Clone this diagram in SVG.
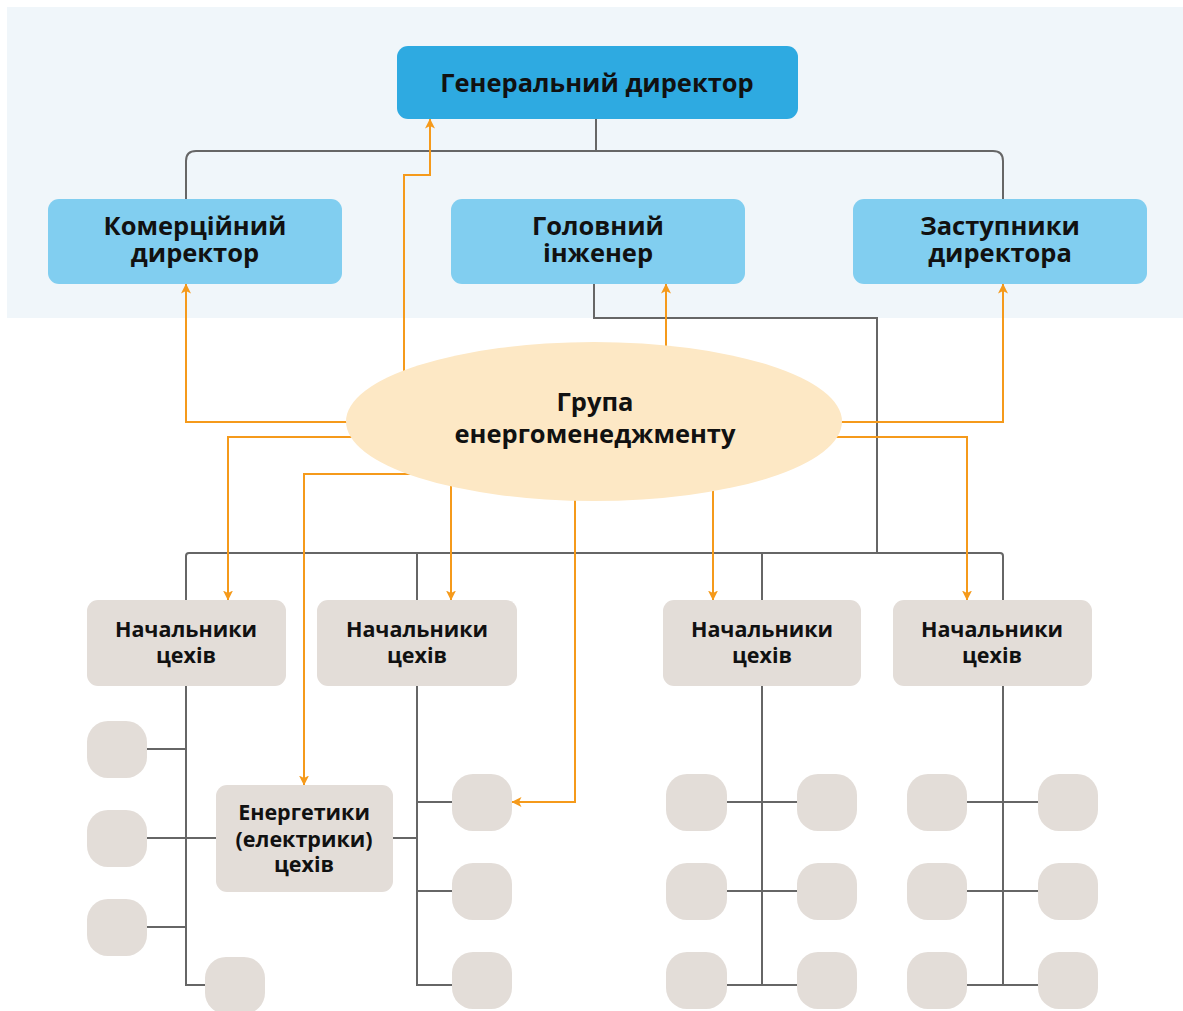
<svg xmlns="http://www.w3.org/2000/svg" width="1183" height="1011" viewBox="0 0 1183 1011">
  <style>
    .panel { fill: #f0f6fa; }
    .top { fill: #2eaae1; }
    .mid { fill: #81cef0; }
    .low { fill: #e3ddd8; }
    .group { fill: #fde8c5; }
    .grey { fill: none; stroke: #666666; stroke-width: 2; }
    .orange { fill: none; stroke: #f59a1b; stroke-width: 2; marker-end: url(#arrow); }
    .t { font-family: "Open Sans", "Noto Sans", "DejaVu Sans", sans-serif; font-weight: 700; fill: #111; text-anchor: middle; }
    .t1 { font-size: 25.5px; }
    .t2 { font-size: 21.5px; }
  </style>
  <defs>
    <marker id="arrow" viewBox="0 0 10 10" refX="9.5" refY="5" markerWidth="5" markerHeight="5" orient="auto" markerUnits="strokeWidth">
      <path d="M0,0 L10,5 L0,10 L2.5,5 z" fill="#f59a1b"/>
    </marker>
  </defs>

  <!-- management background -->
  <rect class="panel" x="7" y="7" width="1176" height="311"/>

  <g id="connectors">
    <!-- reporting lines (grey) -->
    <path class="grey" d="M596,119 V151"/>
    <path class="grey" d="M186,199 V161 Q186,151 196,151 H993 Q1003,151 1003,161 V199"/>
    <path class="grey" d="M594,284 V318 H877 V553"/>
    <path class="grey" d="M186,600 V556 Q186,553 189,553 H1000 Q1003,553 1003,556 V600"/>
    <path class="grey" d="M417,553 V600"/>
    <path class="grey" d="M762,553 V600"/>
    <!-- column 1 -->
    <path class="grey" d="M186,686 V985 H205"/>
    <path class="grey" d="M147,749 H186"/>
    <path class="grey" d="M147,838 H216"/>
    <path class="grey" d="M147,927 H186"/>
    <!-- column 2 -->
    <path class="grey" d="M417,686 V985 H452"/>
    <path class="grey" d="M393,838 H417"/>
    <path class="grey" d="M417,802 H452"/>
    <path class="grey" d="M417,891 H452"/>
    <!-- column 3 -->
    <path class="grey" d="M762,686 V985"/>
    <path class="grey" d="M727,802 H797"/>
    <path class="grey" d="M727,891 H797"/>
    <path class="grey" d="M727,985 H797"/>
    <!-- column 4 -->
    <path class="grey" d="M1003,600 V985"/>
    <path class="grey" d="M967,802 H1038"/>
    <path class="grey" d="M967,891 H1038"/>
    <path class="grey" d="M967,985 H1038"/>

    <!-- energy management links (orange) -->
    <path class="orange" d="M404,380 V175 H430 V119"/>
    <path class="orange" d="M360,422 H186 V284"/>
    <path class="orange" d="M666,350 V284"/>
    <path class="orange" d="M830,422 H1003 V284"/>
    <path class="orange" d="M360,437 H228 V600"/>
    <path class="orange" d="M420,474 H304 V785"/>
    <path class="orange" d="M451,480 V600"/>
    <path class="orange" d="M575,490 V802 H512"/>
    <path class="orange" d="M713,480 V600"/>
    <path class="orange" d="M830,437 H967 V600"/>
  </g>

  <g id="general-director">
    <rect class="top" x="397" y="46" width="401" height="73" rx="11"/>
    <text class="t t1" x="597" y="92">Генеральний директор</text>
  </g>
  <g id="commercial-director">
    <rect class="mid" x="48" y="199" width="294" height="85" rx="11"/>
    <text class="t t1" x="195" y="235">Комерційний<tspan x="195" dy="27">директор</tspan></text>
  </g>
  <g id="chief-engineer">
    <rect class="mid" x="451" y="199" width="294" height="85" rx="11"/>
    <text class="t t1" x="598" y="235">Головний<tspan x="598" dy="27">інженер</tspan></text>
  </g>
  <g id="deputy-directors">
    <rect class="mid" x="853" y="199" width="294" height="85" rx="11"/>
    <text class="t t1" x="1000" y="235">Заступники<tspan x="1000" dy="27">директора</tspan></text>
  </g>

  <g id="energy-group">
    <ellipse class="group" cx="594" cy="421.5" rx="248" ry="79.5"/>
    <text class="t t1" x="595" y="411">Група<tspan x="595" dy="32">енергоменеджменту</tspan></text>
  </g>

  <g id="shop-heads-1">
    <rect class="low" x="87" y="600" width="199" height="86" rx="11"/>
    <text class="t t2" x="186" y="637">Начальники<tspan x="186" dy="26">цехів</tspan></text>
  </g>
  <g id="shop-heads-2">
    <rect class="low" x="317" y="600" width="200" height="86" rx="11"/>
    <text class="t t2" x="417" y="637">Начальники<tspan x="417" dy="26">цехів</tspan></text>
  </g>
  <g id="shop-heads-3">
    <rect class="low" x="663" y="600" width="198" height="86" rx="11"/>
    <text class="t t2" x="762" y="637">Начальники<tspan x="762" dy="26">цехів</tspan></text>
  </g>
  <g id="shop-heads-4">
    <rect class="low" x="893" y="600" width="199" height="86" rx="11"/>
    <text class="t t2" x="992" y="637">Начальники<tspan x="992" dy="26">цехів</tspan></text>
  </g>

  <g id="shop-energetics">
    <rect class="low" x="216" y="785" width="177" height="107" rx="11"/>
    <text class="t t2" x="304" y="820">Енергетики<tspan x="304" dy="27">(електрики)</tspan><tspan x="304" dy="25">цехів</tspan></text>
  </g>

  <!-- unnamed units under each shop head -->
  <g id="unit-1a"><rect class="low" x="87" y="721" width="60" height="57" rx="21"/></g>
  <g id="unit-1b"><rect class="low" x="87" y="810" width="60" height="57" rx="21"/></g>
  <g id="unit-1c"><rect class="low" x="87" y="899" width="60" height="57" rx="21"/></g>
  <g id="unit-1d"><rect class="low" x="205" y="957" width="60" height="57" rx="21"/></g>

  <g id="unit-2a"><rect class="low" x="452" y="774" width="60" height="57" rx="21"/></g>
  <g id="unit-2b"><rect class="low" x="452" y="863" width="60" height="57" rx="21"/></g>
  <g id="unit-2c"><rect class="low" x="452" y="952" width="60" height="57" rx="21"/></g>

  <g id="unit-3a"><rect class="low" x="666" y="774" width="61" height="57" rx="21"/></g>
  <g id="unit-3b"><rect class="low" x="666" y="863" width="61" height="57" rx="21"/></g>
  <g id="unit-3c"><rect class="low" x="666" y="952" width="61" height="57" rx="21"/></g>
  <g id="unit-3d"><rect class="low" x="797" y="774" width="60" height="57" rx="21"/></g>
  <g id="unit-3e"><rect class="low" x="797" y="863" width="60" height="57" rx="21"/></g>
  <g id="unit-3f"><rect class="low" x="797" y="952" width="60" height="57" rx="21"/></g>

  <g id="unit-4a"><rect class="low" x="907" y="774" width="60" height="57" rx="21"/></g>
  <g id="unit-4b"><rect class="low" x="907" y="863" width="60" height="57" rx="21"/></g>
  <g id="unit-4c"><rect class="low" x="907" y="952" width="60" height="57" rx="21"/></g>
  <g id="unit-4d"><rect class="low" x="1038" y="774" width="60" height="57" rx="21"/></g>
  <g id="unit-4e"><rect class="low" x="1038" y="863" width="60" height="57" rx="21"/></g>
  <g id="unit-4f"><rect class="low" x="1038" y="952" width="60" height="57" rx="21"/></g>
</svg>
